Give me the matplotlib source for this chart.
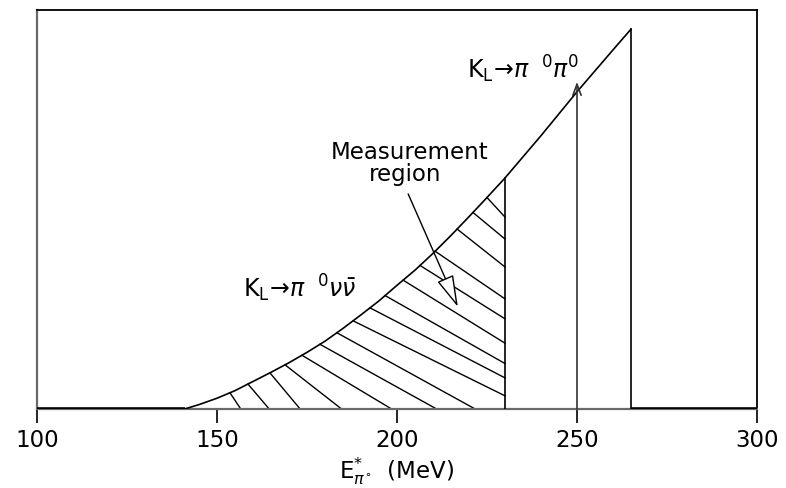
import numpy as np
import matplotlib
matplotlib.use("Agg")
import matplotlib.pyplot as plt

plt.rcParams['font.family'] = ['DejaVu Sans']
plt.rcParams['mathtext.fontset'] = 'dejavusans'

# ---- data ----
# K_L -> pi0 nu nubar spectrum of the pi0 energy in the K_L rest frame (arbitrary units)
curve_x = [141, 145, 150, 155, 160, 165, 170, 175, 180, 185, 190, 195, 200,
           205, 210, 215, 220, 225, 230, 240, 250, 260, 265]
curve_y = [0, 1.1, 2.7, 4.6, 6.9, 9.2, 11.6, 14.2, 17.0, 20.2, 23.6, 27.1, 31.0,
           34.8, 39.0, 43.5, 48.2, 53.0, 57.9, 68.5, 79.5, 90.0, 95.2]
x_range = [100, 300]
y_range = [0, 100]
region_cut = 230          # upper edge of the measurement region (MeV)
kin_endpoint = 265        # kinematic endpoint (MeV)
pi0pi0_energy = 250       # K_L -> pi0 pi0 line (MeV)
pi0pi0_height = 82
xticks = [100, 150, 200, 250, 300]

# hatch lines of the measurement region: start x on curve, end point
hatch_x0 = [153.6, 158.6, 164.7, 168.9, 173.6, 178.6, 183.3, 187.8, 192.5,
            196.7, 201.7, 206.4, 210.6, 216.7, 221.1, 225.0]
hatch_x1 = [156.6, 164.5, 173.1, 184.6, 198.5, 211.0, 221.7, 230, 230,
            230, 230, 230, 230, 230, 230, 230]
hatch_y1 = [0, 0, 0, 0, 0, 0, 0, 3.3, 7.8,
            11.4, 16.5, 22.6, 27.6, 35.6, 42.6, 48.1]

fig = plt.figure(figsize=(7.86, 4.89), dpi=100)
ax = fig.add_axes([37/786, 79/489, 720/786, 399/489])
ax.set_xlim(*x_range)
ax.set_ylim(*y_range)

# zero parts of the spectrum (thick)
ax.plot([x_range[0], curve_x[0]], [0, 0], color='black', lw=2.6, solid_capstyle='butt', zorder=3)
ax.plot([kin_endpoint, x_range[1]], [0, 0], color='black', lw=2.6, solid_capstyle='butt', zorder=3)
# spectrum
ax.plot(curve_x, curve_y, color='black', lw=1.2, zorder=3)
ax.plot([kin_endpoint, kin_endpoint], [0, curve_y[-1]], color='black', lw=1.2, zorder=3)
y_cut = np.interp(region_cut, curve_x, curve_y)
ax.plot([region_cut, region_cut], [0, y_cut], color='black', lw=1.2, zorder=3)

# hatching
for x0, x1, y1 in zip(hatch_x0, hatch_x1, hatch_y1):
    y0 = np.interp(x0, curve_x, curve_y)
    ax.plot([x0, x1], [y0, y1], color='black', lw=1.0, zorder=2)

# K_L -> pi0 pi0 arrow
ax.annotate('', xy=(pi0pi0_energy, pi0pi0_height), xytext=(pi0pi0_energy, 0),
            arrowprops=dict(arrowstyle='->,head_length=0.8,head_width=0.3',
                            color='#333333', lw=1.2, shrinkA=0, shrinkB=0), zorder=3)

# measurement region arrow
ax.annotate('', xy=(216.9, 25.6), xytext=(203.1, 53.9),
            arrowprops=dict(arrowstyle='-|>,head_length=2.0,head_width=0.55',
                            fc='white', ec='black', lw=1.0, shrinkA=0, shrinkB=0), zorder=4)

# labels
ax.text(157.2, 28.3, r'$\mathrm{K_L}\!\rightarrow\!\pi\;\;{}^{0}\nu\bar{\nu}$',
        fontsize=17, ha='left', va='baseline', zorder=5)
ax.text(219.4, 83.0, r'$\mathrm{K_L}\!\rightarrow\!\pi\;\;{}^{0}\pi^{0}$',
        fontsize=17, ha='left', va='baseline', zorder=5)
ax.text(203.6, 62.8, 'Measurement', fontsize=16.5, ha='center', va='baseline', zorder=5)
ax.text(202.2, 57.3, 'region', fontsize=16.5, ha='center', va='baseline', zorder=5)

# axes styling
for side in ['top', 'right']:
    ax.spines[side].set_color('black')
    ax.spines[side].set_linewidth(1.3)
for side in ['left', 'bottom']:
    ax.spines[side].set_color('#6a6a6a')
    ax.spines[side].set_linewidth(1.6)
ax.set_xticks(xticks)
ax.set_xticklabels([str(t) for t in xticks])
ax.set_yticks([])
ax.tick_params(axis='x', direction='out', length=10, width=1.2, pad=4,
               labelsize=16.5, colors='black')
ax.set_xlabel(r'$\mathrm{E}^{*}_{\pi^{\circ}}$  (MeV)', fontsize=16.5, labelpad=2)

fig.savefig('out.png', dpi=100)
